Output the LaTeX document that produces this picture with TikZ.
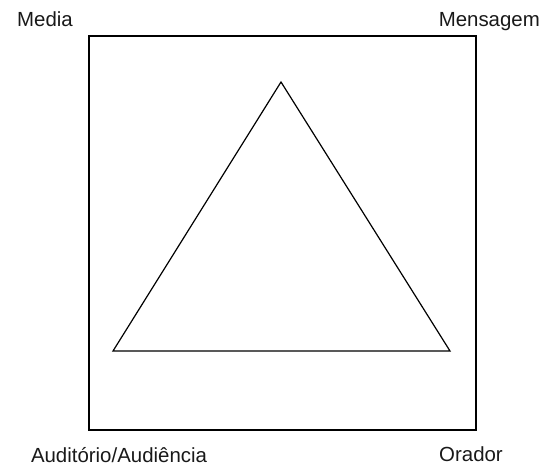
\documentclass[tikz,border=0pt]{standalone}
\usepackage{fontspec}
\setmainfont{Liberation Sans}
\begin{document}
\begin{tikzpicture}[x=1bp,y=-1bp,
  lbl/.style={anchor=base,inner sep=0pt,font=\fontsize{20.5}{24}\selectfont,text=black!90},
  frame/.style={line width=1.6bp},
  tri/.style={line width=1.2bp}]
% Fixed page size
\useasboundingbox (0,0) rectangle (543,469);

% Outer square
\coordinate (sqnw) at (89,36);
\coordinate (sqse) at (476,430);
\draw[frame] (sqnw) rectangle (sqse);

% Triangle
\coordinate (apex) at (281,82);
\coordinate (left) at (113,351);
\coordinate (right) at (450,351);
\draw[tri] (apex) -- (right) -- (left) -- cycle;

% Corner labels
\node[lbl] (media) at (45,27) {Media};
\node[lbl,anchor=base east] (mensagem) at (540,27) {Mensagem};
\node[lbl] (auditorio) at (119,462) {Auditório/Audiência};
\node[lbl] (orador) at (471,461) {Orador};
\end{tikzpicture}
\end{document}
